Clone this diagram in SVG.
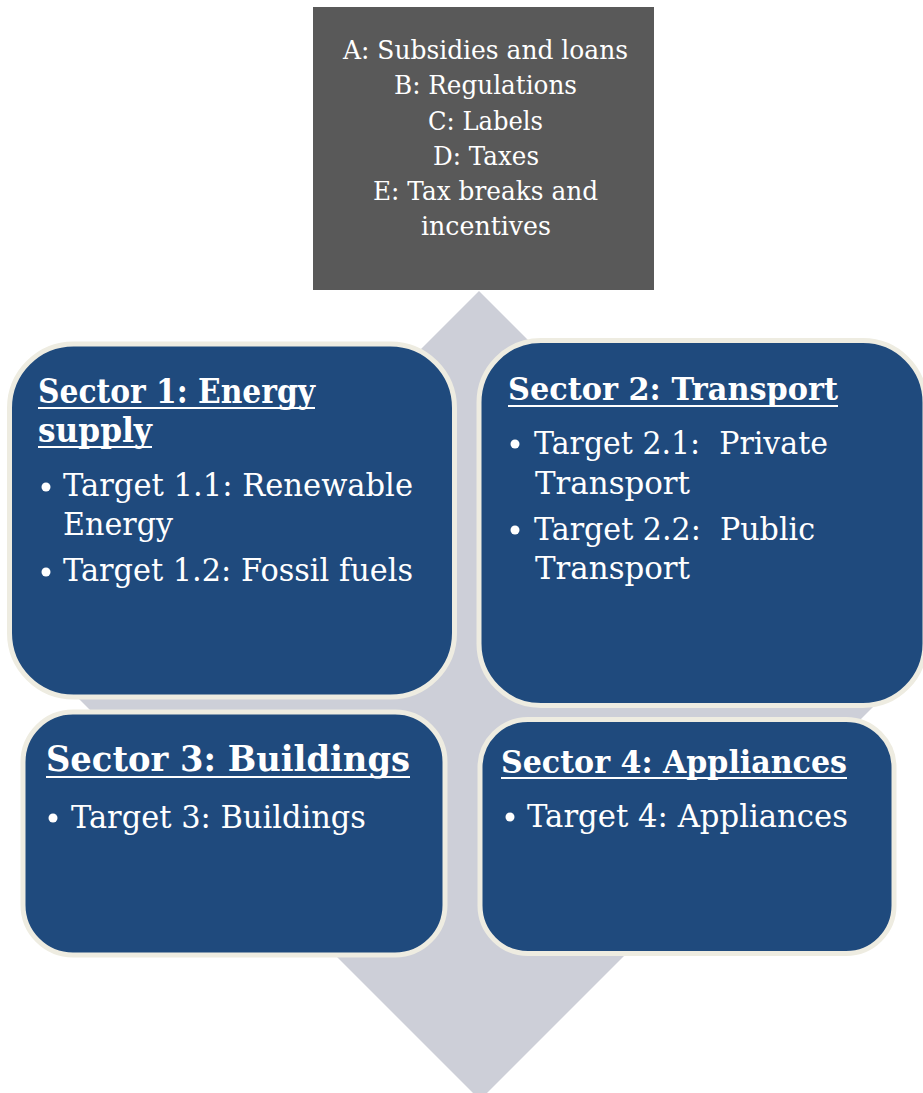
<svg xmlns="http://www.w3.org/2000/svg" width="923" height="1093" viewBox="0 0 923 1093">
  <style>
    .sector { fill: #1F4A7D; stroke: #EEECE1; stroke-width: 5; }
    .txt { font-family: "DejaVu Serif", "Liberation Serif", serif; fill: #FFFFFF; white-space: pre; }
    .legend { font-size: 26px; text-anchor: middle; }
    .head { font-weight: bold; }
    .body { font-size: 31.5px; }
    .uline { stroke: #FFFFFF; stroke-width: 2; }
    .dot { fill: #FFFFFF; }
  </style>

  <!-- background diamond behind the matrix -->
  <g id="backdrop">
    <polygon points="479,291 884,696 480,1100 75,695" fill="#CDCFD8"/>
  </g>

  <!-- instrument legend -->
  <g id="instruments">
    <rect x="313" y="7" width="341" height="283" fill="#595959"/>
    <text class="txt legend" x="485.5" y="59" textLength="285" lengthAdjust="spacingAndGlyphs">A: Subsidies and loans</text>
    <text class="txt legend" x="485.5" y="94" textLength="183" lengthAdjust="spacingAndGlyphs">B: Regulations</text>
    <text class="txt legend" x="485.5" y="130" textLength="115" lengthAdjust="spacingAndGlyphs">C: Labels</text>
    <text class="txt legend" x="486" y="165" textLength="106" lengthAdjust="spacingAndGlyphs">D: Taxes</text>
    <text class="txt legend" x="485.5" y="200" textLength="225" lengthAdjust="spacingAndGlyphs">E: Tax breaks and</text>
    <text class="txt legend" x="486" y="235" textLength="130" lengthAdjust="spacingAndGlyphs">incentives</text>
  </g>

  <!-- Sector 1 -->
  <g id="sector1">
    <rect class="sector" x="9.5" y="344" width="445" height="353" rx="64" ry="64"/>
    <text class="txt head" x="38" y="403" font-size="33" textLength="277" lengthAdjust="spacingAndGlyphs">Sector 1: Energy</text>
    <line class="uline" x1="38" y1="408" x2="315" y2="408"/>
    <text class="txt head" x="38" y="442" font-size="33" textLength="114" lengthAdjust="spacingAndGlyphs">supply</text>
    <line class="uline" x1="38" y1="447" x2="152" y2="447"/>
    <circle class="dot" cx="46" cy="487" r="4.5"/>
    <text class="txt body" x="63" y="496" textLength="350" lengthAdjust="spacingAndGlyphs">Target 1.1: Renewable</text>
    <text class="txt body" x="63" y="535" textLength="110" lengthAdjust="spacingAndGlyphs">Energy</text>
    <circle class="dot" cx="46" cy="572" r="4.5"/>
    <text class="txt body" x="63" y="581" textLength="350" lengthAdjust="spacingAndGlyphs">Target 1.2: Fossil fuels</text>
  </g>

  <!-- Sector 2 -->
  <g id="sector2">
    <rect class="sector" x="479" y="340.5" width="446" height="365" rx="62" ry="62"/>
    <text class="txt head" x="508" y="400" font-size="32" textLength="330" lengthAdjust="spacingAndGlyphs">Sector 2: Transport</text>
    <line class="uline" x1="508" y1="406" x2="838" y2="406"/>
    <circle class="dot" cx="515" cy="444" r="4.5"/>
    <text class="txt body" x="534" y="454" textLength="294" lengthAdjust="spacingAndGlyphs">Target 2.1:  Private</text>
    <text class="txt body" x="535" y="494" textLength="155" lengthAdjust="spacingAndGlyphs">Transport</text>
    <circle class="dot" cx="515" cy="530" r="4.5"/>
    <text class="txt body" x="534" y="540" textLength="281" lengthAdjust="spacingAndGlyphs">Target 2.2:  Public</text>
    <text class="txt body" x="535" y="579" textLength="155" lengthAdjust="spacingAndGlyphs">Transport</text>
  </g>

  <!-- Sector 3 -->
  <g id="sector3">
    <rect class="sector" x="23" y="712" width="422" height="243" rx="50" ry="50"/>
    <text class="txt head" x="46" y="771" font-size="36" textLength="364" lengthAdjust="spacingAndGlyphs">Sector 3: Buildings</text>
    <line class="uline" x1="46" y1="777" x2="410" y2="777"/>
    <circle class="dot" cx="53" cy="818" r="4.5"/>
    <text class="txt body" x="71" y="828" textLength="295" lengthAdjust="spacingAndGlyphs">Target 3: Buildings</text>
  </g>

  <!-- Sector 4 -->
  <g id="sector4">
    <rect class="sector" x="480" y="719.5" width="414" height="234" rx="48" ry="48"/>
    <text class="txt head" x="501" y="773" font-size="32" textLength="346" lengthAdjust="spacingAndGlyphs">Sector 4: Appliances</text>
    <line class="uline" x1="501" y1="778" x2="847" y2="778"/>
    <circle class="dot" cx="510" cy="817" r="4.5"/>
    <text class="txt body" x="527" y="827" textLength="321" lengthAdjust="spacingAndGlyphs">Target 4: Appliances</text>
  </g>
</svg>
